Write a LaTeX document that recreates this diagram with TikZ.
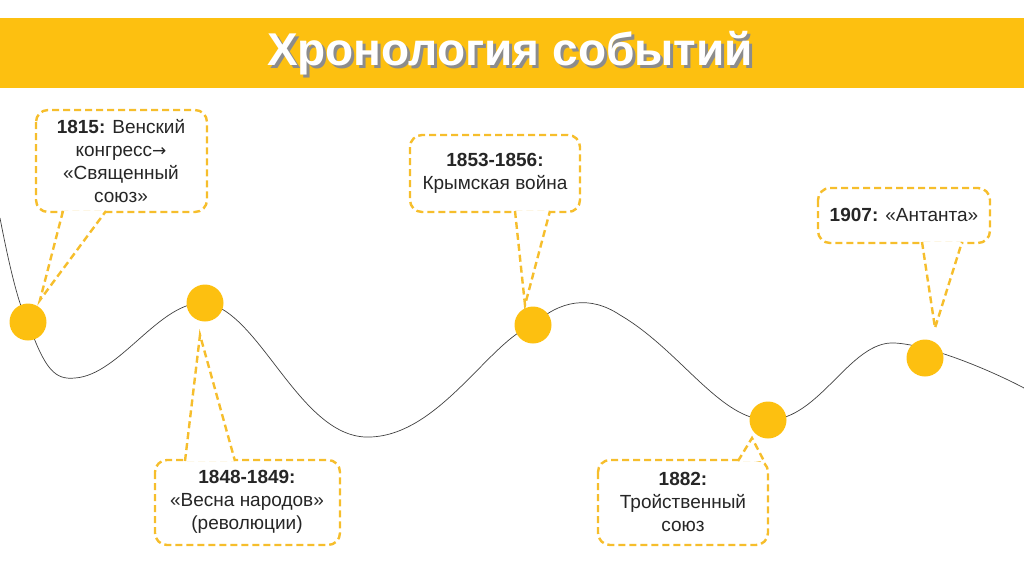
\documentclass[tikz,border=0pt]{standalone}
\usepackage{fontspec}
\setmainfont{Liberation Sans}
\newfontfamily\djv{DejaVu Sans}
\definecolor{ora}{HTML}{FDC010}
\definecolor{dsh}{HTML}{F6BE2C}
\newcommand{\callout}[7]{% x1 y1 x2 y2 base1 tip base2 (coords as pairs)
  \draw[call,rounded corners=12pt] (#1,#2) rectangle (#3,#4);
  \fill[white] #5 -- #6 -- #7 -- cycle;
  \draw[call] #5 -- #6 -- #7;}
\begin{document}
\begin{tikzpicture}[x=1pt,y=-1pt,
  dot/.style={circle,fill=ora,minimum size=37pt,inner sep=0pt},
  call/.style={draw=dsh,line width=2.4pt,dash pattern=on 7pt off 4pt,fill=white},
  lbl/.style={align=center,font=\fontsize{19}{23}\selectfont,text=black!85}]
\useasboundingbox (0,0) rectangle (1024,574);
\fill[ora] (0,18) rectangle (1024,88);
\node[text=black!45,font=\bfseries\fontsize{46}{50}\selectfont] at (513,56) {Хронология событий};
\node (title) [text=white,font=\bfseries\fontsize{46}{50}\selectfont] at (510,53) {Хронология событий};
% curve
\draw[black!75,line width=0.7pt] (0,218) .. controls (10,270) and (20,310) .. (28,322)
 .. controls (45,370) and (55,380) .. (75,378)
 .. controls (120,375) and (160,300) .. (205,303)
 .. controls (260,310) and (300,440) .. (370,437)
 .. controls (440,435) and (490,340) .. (533,325)
 .. controls (560,300) and (590,295) .. (620,315)
 .. controls (680,350) and (720,420) .. (768,420)
 .. controls (820,420) and (850,340) .. (895,343)
 .. controls (930,345) and (990,370) .. (1024,388);
\node[dot] (d1) at (28,322) {};
\node[dot] (d2) at (205,303) {};
\node[dot] (d3) at (533,325) {};
\node[dot] (d4) at (768,420) {};
\node[dot] (d5) at (925,358) {};
% callouts
\callout{36}{110}{207}{212}{(63,211)}{(40,300)}{(106,211)}
\node[lbl] (t1) at (121,161) {\textbf{1815:} Венский\\конгресс{\djv\fontsize{17}{20}\selectfont→}\\«Священный\\союз»};
\callout{155}{460}{340}{545}{(185,461)}{(200,335)}{(235,461)}
\node[lbl] (t2) at (247,502) {\textbf{1848-1849:}\\«Весна народов»\\(революции)};
\callout{410}{135}{580}{212}{(515,211)}{(525,305)}{(550,211)}
\node[lbl] (t3) at (495,173) {\textbf{1853-1856:}\\Крымская война};
\callout{598}{460}{768}{545}{(738,461)}{(752,438)}{(764,461)}
\node[lbl] (t4) at (683,502) {\textbf{1882:}\\Тройственный\\союз};
\callout{818}{188}{990}{243}{(922,242)}{(935,328)}{(962,242)}
\node[lbl] (t5) at (904,215) {\textbf{1907:} «Антанта»};
\end{tikzpicture}
\end{document}
